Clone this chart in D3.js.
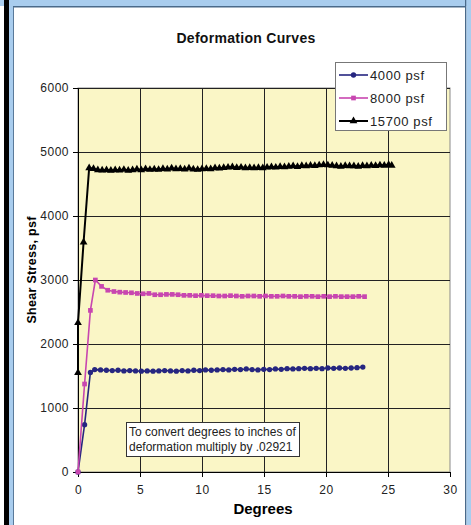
<!DOCTYPE html>
<html><head><meta charset="utf-8">
<script src="https://cdn.jsdelivr.net/npm/d3@7"></script>
<style>body{margin:0;background:#fff;} svg{display:block;} text{font-family:"Liberation Sans",Arial,sans-serif;}</style>
</head><body>
<svg id="chart" width="471" height="525"></svg>
<script>
const title = "Deformation Curves";
const xLabel = "Degrees";
const yLabel = "Shear Stress, psf";
const seriesNames = ["4000 psf", "8000 psf", "15700 psf"];
const xTicks = [0, 5, 10, 15, 20, 25, 30];
const yTicks = [0, 1000, 2000, 3000, 4000, 5000, 6000];
const noteLines = ["To convert degrees to inches of", "deformation multiply by .02921"];

const deg4000 = [0, 0.53, 1.0, 1.35, 1.82, 2.29, 2.76, 3.23, 3.7, 4.17, 4.64, 5.11, 5.58, 6.05, 6.52, 6.99, 7.46, 7.93, 8.4, 8.87, 9.34, 9.81, 10.28, 10.75, 11.22, 11.69, 12.16, 12.63, 13.1, 13.57, 14.04, 14.51, 14.98, 15.45, 15.92, 16.39, 16.86, 17.33, 17.8, 18.27, 18.74, 19.21, 19.68, 20.15, 20.62, 21.09, 21.56, 22.03, 22.5, 22.97];
const stress4000 = [0, 740, 1556, 1600, 1595, 1590, 1585, 1590, 1580, 1585, 1580, 1575, 1580, 1575, 1580, 1585, 1580, 1575, 1585, 1580, 1590, 1585, 1595, 1590, 1595, 1600, 1595, 1605, 1600, 1610, 1600, 1595, 1605, 1600, 1610, 1605, 1615, 1610, 1615, 1620, 1615, 1620, 1615, 1625, 1620, 1625, 1620, 1625, 1630, 1640];

const deg8000 = [0, 0.53, 1.0, 1.4, 1.9, 2.4, 2.9, 3.37, 3.84, 4.31, 4.78, 5.25, 5.72, 6.19, 6.66, 7.13, 7.6, 8.07, 8.54, 9.01, 9.48, 9.95, 10.42, 10.89, 11.36, 11.83, 12.3, 12.77, 13.24, 13.71, 14.18, 14.65, 15.12, 15.59, 16.06, 16.53, 17.0, 17.47, 17.94, 18.41, 18.88, 19.35, 19.82, 20.29, 20.76, 21.23, 21.7, 22.17, 22.64, 23.11];
const stress8000 = [0, 1375, 2525, 3000, 2900, 2840, 2820, 2810, 2805, 2800, 2790, 2785, 2790, 2770, 2770, 2775, 2775, 2770, 2760, 2760, 2755, 2760, 2755, 2755, 2750, 2750, 2755, 2750, 2745, 2750, 2750, 2745, 2750, 2745, 2745, 2750, 2745, 2745, 2740, 2745, 2745, 2740, 2745, 2740, 2745, 2740, 2740, 2740, 2745, 2740];

const deg15700 = [0, 0, 0.45, 0.9, 1.25, 1.6, 1.95, 2.3, 2.65, 3.0, 3.35, 3.7, 4.05, 4.4, 4.75, 5.1, 5.45, 5.8, 6.15, 6.5, 6.85, 7.2, 7.55, 7.9, 8.25, 8.6, 8.95, 9.3, 9.65, 10.0, 10.35, 10.7, 11.05, 11.4, 11.75, 12.1, 12.45, 12.8, 13.15, 13.5, 13.85, 14.2, 14.55, 14.9, 15.25, 15.6, 15.95, 16.3, 16.65, 17.0, 17.35, 17.7, 18.05, 18.4, 18.75, 19.1, 19.45, 19.8, 20.15, 20.5, 20.85, 21.2, 21.55, 21.9, 22.25, 22.6, 22.95, 23.3, 23.65, 24.0, 24.35, 24.7, 25.05, 25.3];
const stress15700 = [1550, 2330, 3590, 4750, 4740, 4720, 4715, 4720, 4710, 4720, 4715, 4725, 4710, 4720, 4730, 4720, 4735, 4725, 4730, 4725, 4740, 4730, 4745, 4735, 4740, 4730, 4745, 4730, 4725, 4735, 4740, 4735, 4750, 4745, 4755, 4760, 4765, 4755, 4760, 4750, 4755, 4750, 4755, 4750, 4760, 4765, 4760, 4770, 4765, 4775, 4780, 4770, 4785, 4780, 4790, 4785, 4795, 4800, 4795, 4790, 4780, 4775, 4785, 4780, 4780, 4775, 4785, 4780, 4790, 4785, 4795, 4790, 4800, 4790];

const colors = ["#262680", "#c846b0", "#000000"];
const symbols = [d3.symbolCircle, d3.symbolSquare, d3.symbolTriangle];

const svg = d3.select("#chart");

// window frame
svg.append("rect").attr("x", 0).attr("y", 0).attr("width", 471).attr("height", 525).attr("fill", "#ffffff");
svg.append("rect").attr("x", 0).attr("y", 0).attr("width", 471).attr("height", 6).attr("fill", "#a9cdee");
svg.append("rect").attr("x", 9).attr("y", 6).attr("width", 456).attr("height", 1.5).attr("fill", "#4a6a8a");
svg.append("rect").attr("x", 4).attr("y", 0).attr("width", 5).attr("height", 525).attr("fill", "#000");
svg.append("rect").attr("x", 9).attr("y", 6).attr("width", 4).attr("height", 519).attr("fill", "#a9cdee");
svg.append("rect").attr("x", 13).attr("y", 7).attr("width", 1).attr("height", 518).attr("fill", "#5a7a9a");
svg.append("rect").attr("x", 465).attr("y", 0).attr("width", 1.5).attr("height", 525).attr("fill", "#4a6a8a");
svg.append("rect").attr("x", 466.5).attr("y", 0).attr("width", 4.5).attr("height", 525).attr("fill", "#a9cdee");

const x = d3.scaleLinear().domain([0, 30]).range([78, 450]);
const y = d3.scaleLinear().domain([0, 6000]).range([472, 88]);

// plot area
svg.append("rect").attr("x", x(0)).attr("y", y(6000)).attr("width", x(30) - x(0)).attr("height", y(0) - y(6000))
  .attr("fill", "#faf6c6").attr("stroke", "#8a8a8a").attr("stroke-width", 1);

// gridlines
svg.append("g").selectAll("line").data(xTicks.slice(1, -1)).join("line")
  .attr("x1", d => Math.round(x(d)) + 0.5).attr("x2", d => Math.round(x(d)) + 0.5)
  .attr("y1", y(6000)).attr("y2", y(0)).attr("stroke", "#222").attr("stroke-width", 1);
svg.append("g").selectAll("line").data(yTicks.slice(1)).join("line")
  .attr("x1", x(0)).attr("x2", x(30))
  .attr("y1", d => Math.round(y(d)) + 0.5).attr("y2", d => Math.round(y(d)) + 0.5)
  .attr("stroke", "#222").attr("stroke-width", 1);

// axes
const yAxis = d3.axisLeft(y).tickValues(yTicks).tickSize(5).tickPadding(4).tickFormat(d3.format("d"));
const gy = svg.append("g").attr("transform", `translate(${x(0)},0)`).call(yAxis);
gy.select(".domain").attr("stroke", "#000");
gy.selectAll(".tick line").attr("stroke", "#000");
gy.selectAll("text").attr("font-size", 12).attr("fill", "#222").attr("letter-spacing", "0.5px")
  .attr("font-family", '"Liberation Sans", Arial, sans-serif');

const xAxis = d3.axisBottom(x).tickValues(xTicks).tickSize(5).tickPadding(8).tickFormat(d3.format("d"));
const gx = svg.append("g").attr("transform", `translate(0,${y(0)})`).call(xAxis);
gx.select(".domain").attr("stroke", "#000");
gx.selectAll(".tick line").attr("stroke", "#000");
gx.selectAll("text").attr("font-size", 12).attr("fill", "#222").attr("letter-spacing", "0.5px")
  .attr("font-family", '"Liberation Sans", Arial, sans-serif');

// series
const series = [
  {deg: deg4000, val: stress4000},
  {deg: deg8000, val: stress8000},
  {deg: deg15700, val: stress15700}
];
const line = d3.line().x(d => x(d[0])).y(d => y(d[1]));
const widths = [1.6, 1.6, 2];
const sizes = [22, 22, 26];
series.forEach((s, i) => {
  const pts = s.deg.map((d, j) => [d, s.val[j]]);
  const g = svg.append("g");
  g.append("path").datum(pts).attr("d", line).attr("fill", "none")
    .attr("stroke", colors[i]).attr("stroke-width", widths[i]).attr("stroke-linejoin", "round");
  g.selectAll("path.m").data(pts).join("path").attr("class", "m")
    .attr("transform", d => `translate(${x(d[0])},${y(d[1])})`)
    .attr("d", d3.symbol().type(symbols[i]).size(sizes[i]))
    .attr("fill", colors[i]);
});

// title
svg.append("text").attr("x", 246).attr("y", 43).attr("text-anchor", "middle")
  .attr("font-size", 14).attr("font-weight", "bold").attr("letter-spacing", "0.3px").attr("fill", "#111").text(title);

// axis titles
svg.append("text").attr("x", 263).attr("y", 514).attr("text-anchor", "middle")
  .attr("font-size", 15).attr("font-weight", "bold").attr("fill", "#000").text(xLabel);
svg.append("text").attr("transform", "translate(36,270) rotate(-90)").attr("text-anchor", "middle")
  .attr("font-size", 12.5).attr("font-weight", "bold").attr("letter-spacing", "0.3px").attr("fill", "#000").text(yLabel);

// legend
const lg = svg.append("g");
lg.append("rect").attr("x", 335.5).attr("y", 62.5).attr("width", 111).attr("height", 68)
  .attr("fill", "#fff").attr("stroke", "#777");
seriesNames.forEach((n, i) => {
  const cy = 75 + i * 23;
  lg.append("line").attr("x1", 339).attr("x2", 368).attr("y1", cy).attr("y2", cy)
    .attr("stroke", colors[i]).attr("stroke-width", widths[i]);
  lg.append("path").attr("transform", `translate(353.5,${cy})`)
    .attr("d", d3.symbol().type(symbols[i]).size(sizes[i])).attr("fill", colors[i]);
  lg.append("text").attr("x", 370).attr("y", cy + 5).attr("font-size", 13)
    .attr("letter-spacing", "0.6px").attr("fill", "#222").text(n);
});

// note box
const ng = svg.append("g");
const nb = ng.append("rect").attr("x", 126.5).attr("y", 422.5).attr("height", 34)
  .attr("fill", "#fff").attr("stroke", "#333");
const nt = noteLines.map((t, i) => ng.append("text").attr("x", 129).attr("y", 436 + i * 15)
  .attr("font-size", 12).attr("fill", "#222").text(t));
const w = d3.max(nt, t => t.node().getComputedTextLength());
nb.attr("width", Math.round(w) + 6);
</script>
</body></html>
